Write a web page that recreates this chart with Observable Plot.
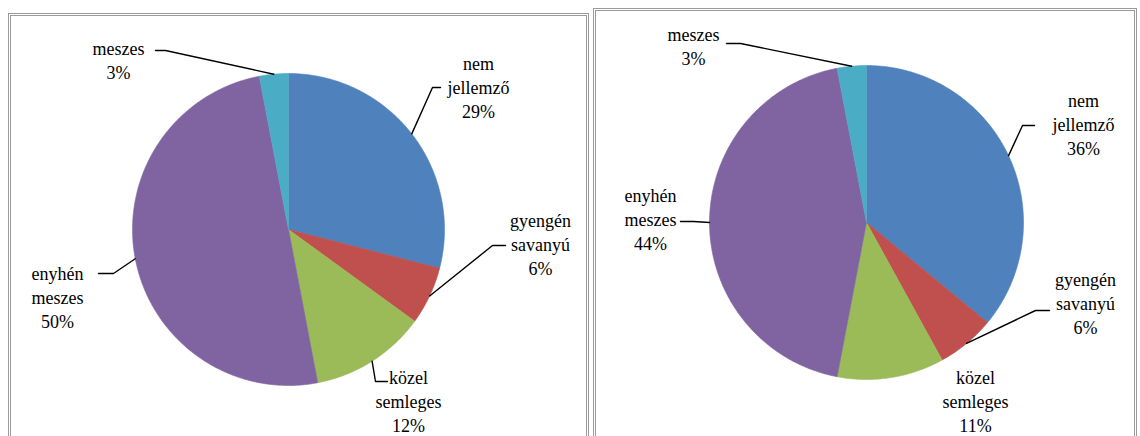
<!DOCTYPE html>
<html><head><meta charset="utf-8">
<script src="https://cdn.jsdelivr.net/npm/d3@7"></script>
<script src="https://cdn.jsdelivr.net/npm/@observablehq/plot@0.6"></script>
<style>
html,body{margin:0;padding:0;background:#fff;overflow:hidden;width:1140px;height:436px;}
#wrap{position:relative;width:1140px;height:436px;overflow:hidden;}
.frame{position:absolute;border:3px double #9a9a9a;box-sizing:border-box;}
#chart{position:absolute;left:0;top:0;}
#chart svg text, #chart svg tspan{font-family:"Liberation Serif","Tinos","Times New Roman","DejaVu Serif",serif !important;}
</style></head><body>
<div id="wrap">
<div class="frame" style="left:8px;top:13px;width:581px;height:460px"></div>
<div class="frame" style="left:593px;top:8px;width:544px;height:460px"></div>
<div id="chart"></div>
</div>
<script>
// ---- data ----
const categories = ["nem jellemző", "gyengén savanyú", "közel semleges", "enyhén meszes", "meszes"];
const valuesLeft = [29, 6, 12, 50, 3];
const valuesRight = [36, 6, 11, 44, 3];

// ---- style ----
const colors = ["#4F81BD", "#C0504D", "#9BBB59", "#8064A2", "#4BACC6"];

// ---- layout (offsets from each pie centre, px) ----
// label: block centre; bend/attach: leader line elbow and end at the label (null = no leader)
const layoutLeft = {cx: 288, cy: 229, r: 156, labels: [
  {dx: 190, dy: -143, bend: [144, -142], attach: [152, -142]},
  {dx: 252, dy: 14,   bend: [204, 16],   attach: [217, 16]},
  {dx: 120, dy: 171,  bend: [87, 152],   attach: [99, 152]},
  {dx: -231, dy: 67,  bend: [-175, 44],  attach: [-190, 44]},
  {dx: -170, dy: -170, bend: [-123, -179], attach: [-133, -179]}
]};
const layoutRight = {cx: 866, cy: 222, r: 157, labels: [
  {dx: 217, dy: -99, bend: [156, -97], attach: [168, -97]},
  {dx: 219, dy: 80,  bend: [169, 88],  attach: [183, 88]},
  {dx: 109, dy: 178, bend: null, attach: null},
  {dx: -216, dy: -4, bend: [-173, -1], attach: [-186, -1]},
  {dx: -173, dy: -177, bend: [-126, -179], attach: [-140, -179]}
]};

const slicePts = [], leaderPts = [], labelRows = [];
function build(id, values, L) {
  const arcs = d3.pie().sort(null).value(d => d)(values);
  arcs.forEach((a, i) => {
    const key = id + i, cat = categories[i];
    slicePts.push({key, cat, x: L.cx, y: L.cy});
    const n = Math.max(2, Math.ceil((a.endAngle - a.startAngle) / 0.01));
    for (let k = 0; k <= n; k++) {
      const t = a.startAngle + (a.endAngle - a.startAngle) * k / n;
      slicePts.push({key, cat, x: L.cx + L.r * Math.sin(t), y: L.cy - L.r * Math.cos(t)});
    }
    slicePts.push({key, cat, x: L.cx, y: L.cy});
    const lab = L.labels[i];
    const pct = Math.round(a.value / d3.sum(values) * 100);
    labelRows.push({x: L.cx + lab.dx, y: L.cy + lab.dy, text: cat.split(" ").join("\n") + "\n" + pct + "%"});
    if (lab.bend) {
      const m = (a.startAngle + a.endAngle) / 2;
      leaderPts.push({key, x: L.cx + L.r * Math.sin(m), y: L.cy - L.r * Math.cos(m)});
      leaderPts.push({key, x: L.cx + lab.bend[0], y: L.cy + lab.bend[1]});
      leaderPts.push({key, x: L.cx + lab.attach[0], y: L.cy + lab.attach[1]});
    }
  });
}
build("L", valuesLeft, layoutLeft);
build("R", valuesRight, layoutRight);

const W = 1140, H = 436;
const chart = Plot.plot({
  width: W, height: H, margin: 0,
  style: {background: "transparent", overflow: "visible"},
  x: {domain: [0, W], range: [0, W], axis: null},
  y: {domain: [0, H], range: [0, H], axis: null},
  color: {domain: categories, range: colors},
  marks: [
    Plot.line(slicePts, {x: "x", y: "y", z: "key", fill: "cat", stroke: "cat", strokeWidth: 0.6, curve: "linear"}),
    Plot.line(leaderPts, {x: "x", y: "y", z: "key", stroke: "#000", strokeWidth: 1.4}),
    Plot.text(labelRows, {x: "x", y: "y", text: "text", fontSize: 18, lineHeight: 1.33,
      fontFamily: "Liberation Serif, DejaVu Serif, serif", fill: "#000"})
  ]
});
document.getElementById("chart").appendChild(chart);
</script>
</body></html>
